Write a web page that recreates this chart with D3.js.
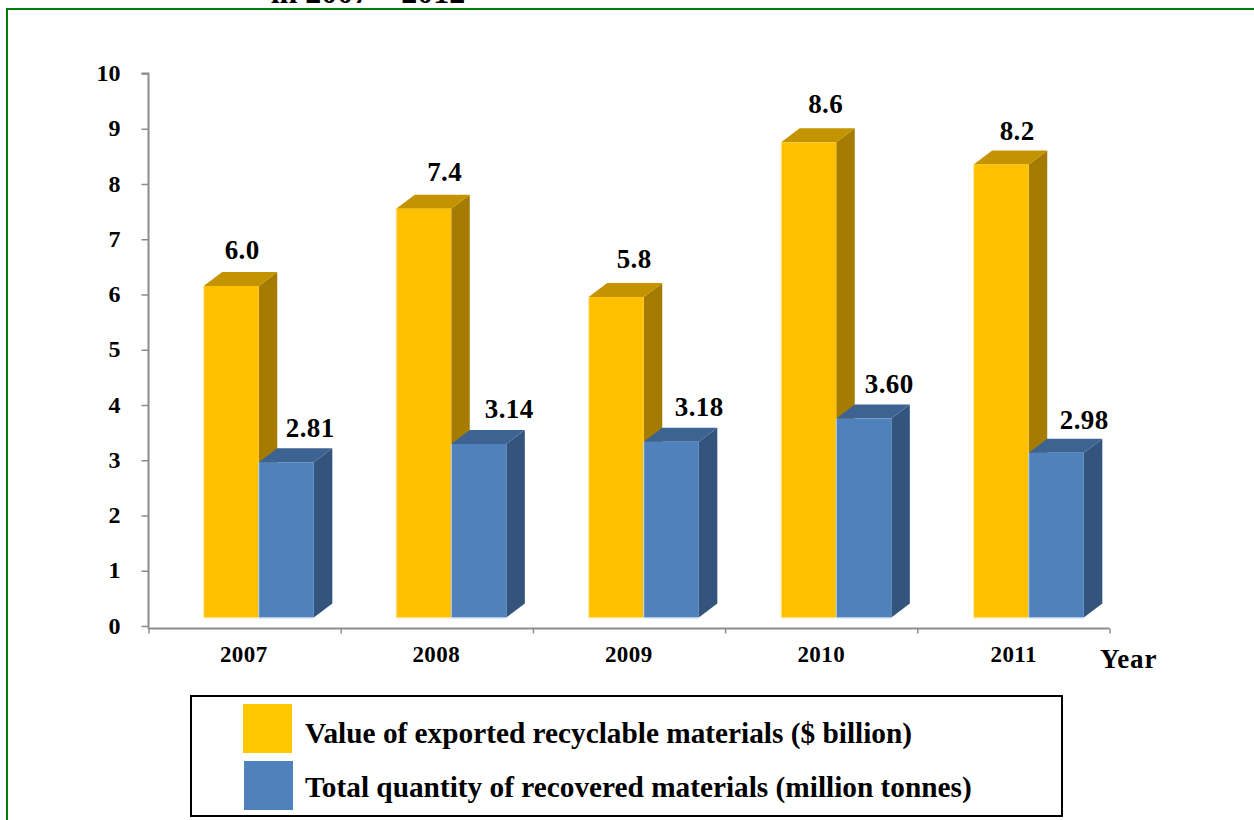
<!DOCTYPE html>
<html>
<head>
<meta charset="utf-8">
<script src="https://cdn.jsdelivr.net/npm/d3@7/dist/d3.min.js"></script>
<style>
html,body{margin:0;padding:0;background:#fff;overflow:hidden}
svg{display:block}
text{font-family:"Liberation Serif","Times New Roman",serif;font-weight:bold;fill:#000}
</style>
</head>
<body>
<svg id="chart" width="1254" height="820"></svg>
<script>
const categories = ["2007", "2008", "2009", "2010", "2011"];
const seriesNames = ["Value of exported recyclable materials ($ billion)", "Total quantity of recovered materials (million tonnes)"];
const exportedValue = [6.0, 7.4, 5.8, 8.6, 8.2];
const recoveredQuantity = [2.81, 3.14, 3.18, 3.60, 2.98];
const exportedLabels = ["6.0", "7.4", "5.8", "8.6", "8.2"];
const recoveredLabels = ["2.81", "3.14", "3.18", "3.60", "2.98"];
const yTicks = [0, 1, 2, 3, 4, 5, 6, 7, 8, 9, 10];
const titleFragment = "in 2007 \u2013 2012";
const xAxisName = "Year";

const svg = d3.select("#chart");

// page frame and clipped title
svg.append("path").attr("d", "M7,820V9H1254").attr("fill", "none").attr("stroke", "#008000").attr("stroke-width", 2);
svg.append("text").attr("x", 368).attr("y", 2.5).attr("text-anchor", "middle").attr("font-size", 32).text(titleFragment);

const axisLeft = 148.5, axisRight = 1109.5, axisY = 628.5;
const depthX = 18.5, depthY = 14, floorLift = 8.5;

const y = d3.scaleLinear().domain([0, 10]).range([626, 73.5]);
const x = d3.scaleBand().domain(categories).range([axisLeft, 1111]).paddingInner(0.4277).paddingOuter(0.2139);
const xEdges = d3.scaleLinear().domain([0, categories.length]).range([axisLeft, axisRight]);
const sub = d3.scaleBand().domain([0, 1]).range([0, x.bandwidth()]);
const barShift = 14;

const colors = [
  {front: "#ffc000", top: "#c49400", side: "#a67c00", edge: "#ffe9a6"},
  {front: "#4f81bd", top: "#3c6392", side: "#33547c", edge: "#c5d6ea"}
];

// Y axis
const yAxis = svg.append("g").attr("transform", `translate(${axisLeft},0)`)
  .call(d3.axisLeft(y).tickValues(yTicks).tickSize(7).tickPadding(21).tickFormat(d3.format("d")));
yAxis.select(".domain").attr("stroke", "#8c8c8c").attr("stroke-width", 2).attr("d", `M-7,${y(10)}H0V${axisY}`);
yAxis.selectAll(".tick line").attr("stroke", "#8c8c8c").attr("stroke-width", 1.5);
yAxis.selectAll(".tick text").attr("font-size", 24).attr("font-family", "Liberation Serif").attr("font-weight", "bold").attr("fill", "#000").attr("dy", "0.3em");

// X axis: ticks at category edges
const xAxis = svg.append("g").attr("transform", `translate(0,${axisY})`)
  .call(d3.axisBottom(xEdges).tickValues(d3.range(categories.length + 1)).tickSize(5).tickFormat(""));
xAxis.select(".domain").attr("stroke", "#8c8c8c").attr("stroke-width", 2).attr("d", `M${axisLeft},0H${axisRight}`);
xAxis.selectAll(".tick line").attr("stroke", "#8c8c8c").attr("stroke-width", 1.5);

svg.append("g").selectAll("text").data(categories).join("text")
  .attr("x", d => x(d) + x.bandwidth() / 2 - 1).attr("y", 662)
  .attr("text-anchor", "middle").attr("font-size", 23).style("letter-spacing", "0.4px").text(d => d);
svg.append("text").attr("x", 1100).attr("y", 668).attr("font-size", 27).style("letter-spacing", "0.8px").text(xAxisName);

// 3D bars
const series = [exportedValue, recoveredQuantity];
const labels = [exportedLabels, recoveredLabels];
// hand placement of the value labels, relative to each bar's front face
const labelDx = [[38.5, 48.5, 45.5, 44.5, 43.5], [51.5, 58, 55.5, 53, 55.5]];
const labelDy = [[-27, -28, -29, -29, -24], [-25, -26, -26, -26, -24]];

function drawBar(g, cat, si, v) {
  const c = colors[si];
  const x0 = x(cat) + barShift + sub(si);
  const w = sub.bandwidth();
  const top = y(v) - floorLift;
  const base = y(0) - floorLift;
  g.append("path").attr("fill", c.side)
    .attr("d", `M${x0 + w},${top}L${x0 + w + depthX},${top - depthY}V${base - depthY}L${x0 + w},${base}Z`);
  g.append("path").attr("fill", c.top)
    .attr("d", `M${x0},${top}L${x0 + depthX},${top - depthY}H${x0 + w + depthX}L${x0 + w},${top}Z`);
  g.append("rect").attr("x", x0).attr("y", top).attr("width", w).attr("height", base - top).attr("fill", c.front);
  g.append("path").attr("fill", "none").attr("stroke", c.edge).attr("stroke-width", 1)
    .attr("d", `M${x0},${top}V${base + 0.5}H${x0 + w}`);
}

const barLayer = svg.append("g");
categories.forEach((cat, i) => {
  drawBar(barLayer, cat, 0, series[0][i]);
  drawBar(barLayer, cat, 1, series[1][i]);
});

// value labels
[0, 1].forEach(si => {
  svg.append("g").selectAll("text").data(categories).join("text")
    .attr("x", (d, i) => x(d) + barShift + sub(si) + labelDx[si][i])
    .attr("y", (d, i) => y(series[si][i]) - floorLift + labelDy[si][i])
    .attr("text-anchor", "middle").attr("font-size", 27).style("letter-spacing", "0.4px")
    .text((d, i) => labels[si][i]);
});

// legend
const legend = svg.append("g");
legend.append("rect").attr("x", 191).attr("y", 696).attr("width", 871).attr("height", 120)
  .attr("fill", "#fff").attr("stroke", "#000").attr("stroke-width", 2);
const legendItems = [
  {sx: 243, sy: 704, tx: 305, ty: 743, fill: "#ffc800"},
  {sx: 244, sy: 761, tx: 305, ty: 797, fill: "#4f81bd"}
];
legendItems.forEach((it, i) => {
  legend.append("rect").attr("x", it.sx).attr("y", it.sy).attr("width", 49).attr("height", 49).attr("fill", it.fill);
  legend.append("text").attr("x", it.tx).attr("y", it.ty).attr("font-size", 29.3).text(seriesNames[i]);
});
</script>
</body>
</html>
